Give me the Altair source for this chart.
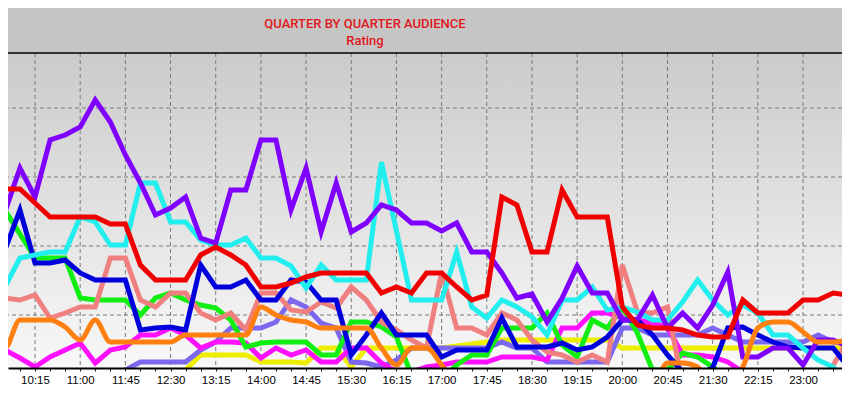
import altair as alt
import pandas as pd

# ---------------- data ----------------
quarters = ["9:30", "9:45", "10:00", "10:15", "10:30", "10:45", "11:00", "11:15", "11:30", "11:45",
            "12:00", "12:15", "12:30", "12:45", "13:00", "13:15", "13:30", "13:45", "14:00", "14:15",
            "14:30", "14:45", "15:00", "15:15", "15:30", "15:45", "16:00", "16:15", "16:30", "16:45",
            "17:00", "17:15", "17:30", "17:45", "18:00", "18:15", "18:30", "18:45", "19:00", "19:15",
            "19:30", "19:45", "20:00", "20:15", "20:30", "20:45", "21:00", "21:15", "21:30", "21:45",
            "22:00", "22:15", "22:30", "22:45", "23:00", "23:15", "23:30", "23:45"]

tick_labels = ["9:30", "10:15", "11:00", "11:45", "12:30", "13:15", "14:00", "14:45", "15:30", "16:15",
               "17:00", "17:45", "18:30", "19:15", "20:00", "20:45", "21:30", "22:15", "23:00", "23:45"]

grid_levels = [8.5, 15.4, 22.3, 29.2]

red = [21.1, 21.1, 21.1, 19.7, 18.3, 18.3, 18.3, 18.3, 17.6, 17.6,
       13.5, 12.0, 12.0, 12.0, 14.5, 15.3, 14.5, 13.5, 11.3, 11.3,
       11.7, 12.3, 12.7, 12.7, 12.7, 12.7, 10.7, 11.3, 10.7, 12.7,
       12.7, 11.3, 10.0, 10.5, 20.3, 19.5, 14.8, 14.8, 21.0, 18.3,
       18.3, 18.3, 9.3, 7.5, 7.2, 7.2, 7.0, 6.5, 6.3, 6.3,
       10.0, 8.7, 8.7, 8.7, 10.0, 10.0, 10.7, 10.5]

purple = [24.0, 18.8, 23.2, 20.3, 26.0, 26.5, 27.3, 30.0, 27.8, 24.5,
          21.7, 18.5, 19.2, 20.3, 16.2, 15.7, 21.0, 21.0, 26.0, 26.0,
          19.0, 23.2, 16.8, 21.7, 16.8, 17.7, 19.5, 19.0, 17.7, 17.7,
          16.9, 17.7, 14.8, 14.8, 12.7, 10.2, 10.6, 7.8, 10.2, 13.4,
          10.7, 10.7, 8.0, 8.0, 10.5, 7.2, 8.7, 7.2, 9.5, 12.8,
          4.3, 4.3, 5.2, 5.2, 3.5, 6.0, 6.0, 5.3]

cyan = [11.3, 11.3, 14.2, 14.5, 14.8, 14.8, 18.3, 17.8, 15.5, 15.5,
        21.7, 21.7, 17.8, 17.8, 16.0, 15.5, 15.5, 16.2, 14.2, 14.2,
        13.4, 11.2, 13.5, 12.0, 12.0, 12.0, 23.8, 16.9, 10.0, 10.0,
        10.0, 14.8, 9.3, 8.2, 10.0, 9.3, 8.3, 6.5, 10.0, 10.0,
        11.3, 9.0, 9.3, 8.8, 8.0, 8.0, 9.8, 12.0, 10.0, 8.5,
        9.5, 8.7, 6.5, 6.5, 5.2, 4.0, 3.3, 1.5]

blue = [13.8, 15.0, 19.0, 13.7, 13.7, 14.0, 12.7, 12.0, 12.0, 12.0,
        7.0, 7.2, 7.3, 7.0, 13.5, 11.3, 11.3, 12.0, 10.0, 10.0,
        12.0, 11.8, 10.0, 10.0, 4.5, 6.5, 8.7, 6.5, 6.5, 6.5,
        4.3, 5.0, 5.0, 5.0, 8.2, 5.3, 5.3, 5.3, 5.7, 5.0,
        5.3, 6.3, 8.0, 8.0, 6.5, 4.5, 2.8, 2.5, 3.2, 7.2,
        7.3, 6.5, 5.8, 5.3, 5.2, 5.2, 5.2, 3.3]

green = [21.0, 19.0, 16.6, 14.2, 14.2, 14.2, 10.2, 10.0, 10.0, 10.0,
         8.5, 10.2, 10.7, 10.0, 9.5, 9.2, 8.0, 5.3, 5.7, 5.8,
         5.8, 5.8, 4.5, 4.5, 7.8, 7.8, 7.3, 6.3, 2.5, 2.0,
         2.0, 3.5, 4.5, 4.5, 7.2, 7.2, 7.2, 8.7, 5.5, 4.3,
         8.0, 7.2, 9.3, 6.7, 3.0, 3.0, 4.7, 4.3, 3.3, 2.0,
         2.0, 2.0, 2.0, 2.0, 2.0, 2.0, 2.0, 2.0]

salmon = [10.2, 10.2, 10.0, 10.5, 8.2, 8.7, 9.3, 9.3, 14.2, 14.2,
          10.0, 9.3, 10.7, 10.7, 8.7, 8.0, 8.7, 7.0, 10.7, 10.7,
          9.0, 8.8, 9.8, 9.2, 11.3, 10.0, 7.8, 7.0, 6.0, 5.2,
          12.8, 7.2, 7.2, 6.5, 8.7, 8.0, 6.0, 4.8, 4.5, 3.8,
          4.5, 3.8, 13.5, 8.8, 8.7, 9.3, 1.5, 1.5, 1.5, 1.5,
          1.5, 1.5, 1.5, 1.5, 1.5, 1.5, 3.5, 6.0]

orange = [5.2, 5.2, 8.0, 8.0, 8.0, 7.3, 6.0, 8.0, 5.8, 5.8,
          5.8, 5.8, 5.8, 6.5, 6.5, 6.5, 6.5, 6.5, 9.3, 8.5,
          8.0, 7.8, 7.2, 7.2, 7.2, 7.2, 5.2, 3.5, 5.2, 5.2,
          3.5, 1.5, 1.5, 1.5, 1.5, 1.5, 1.5, 1.5, 1.5, 1.5,
          1.5, 1.5, 1.5, 1.5, 1.5, 3.7, 3.7, 3.3, 1.5, 1.5,
          3.3, 7.2, 7.8, 7.8, 6.8, 5.8, 5.8, 6.0]

magenta = [5.5, 5.0, 4.2, 3.3, 4.3, 5.0, 5.7, 3.7, 5.0, 5.3,
           6.5, 6.5, 7.2, 6.5, 5.2, 5.8, 5.8, 5.7, 4.2, 5.2,
           4.5, 5.0, 3.8, 3.8, 5.2, 5.2, 3.7, 2.8, 2.8, 3.3,
           3.5, 3.8, 3.8, 3.8, 4.3, 4.3, 4.3, 4.0, 7.2, 7.2,
           8.7, 8.7, 8.2, 8.0, 7.7, 7.3, 4.5, 4.5, 4.3, 3.8,
           2.8, 1.5, 1.5, 1.5, 1.5, 1.5, 1.5, 1.5]

slate = [1.5, 1.5, 1.5, 1.5, 1.5, 1.5, 1.5, 1.5, 1.5, 3.0,
         3.8, 3.8, 3.8, 3.8, 5.0, 5.8, 7.2, 7.2, 7.2, 7.8,
         10.0, 9.3, 7.7, 7.2, 3.8, 3.7, 3.3, 4.0, 5.2, 5.2,
         5.2, 5.2, 5.2, 5.2, 5.8, 5.2, 5.2, 3.8, 3.8, 3.8,
         3.8, 3.8, 7.2, 7.2, 6.5, 6.5, 6.5, 6.5, 7.2, 6.5,
         5.8, 5.8, 5.8, 5.8, 5.8, 6.5, 5.8, 5.7]

yellow = [1.5, 1.5, 1.5, 1.5, 1.5, 1.5, 1.5, 1.5, 1.5, 1.5,
          1.5, 1.5, 1.5, 3.0, 4.5, 4.5, 4.5, 4.5, 3.8, 3.8,
          3.8, 3.7, 5.2, 5.2, 3.3, 5.2, 5.2, 5.2, 5.2, 5.2,
          5.2, 5.4, 5.6, 5.8, 6.0, 6.0, 6.0, 6.0, 6.0, 6.0,
          6.0, 6.0, 5.2, 5.2, 5.2, 5.2, 5.2, 5.2, 5.2, 5.2,
          5.2, 5.2, 5.2, 5.2, 5.2, 5.2, 5.2, 5.2]

# drawing order: first = bottom
series = [
    ("Yellow", yellow, "#eeee00", "linear"),
    ("Slate", slate, "#7b68ee", "linear"),
    ("Magenta", magenta, "#ff10ff", "linear"),
    ("Green", green, "#11ee11", "linear"),
    ("Salmon", salmon, "#f08080", "linear"),
    ("Blue", blue, "#0000dd", "linear"),
    ("Cyan", cyan, "#22eeee", "linear"),
    ("Purple", purple, "#8000ff", "linear"),
    ("Red", red, "#f00000", "linear"),
    ("Orange", orange, "#ff8010", "monotone"),
]


def to_min(s):
    h, m = s.split(":")
    return int(h) * 60 + int(m)


rows = []
for name, vals, _, _ in series:
    for q, v in zip(quarters, vals):
        rows.append({"series": name, "t": to_min(q), "value": v})
df = pd.DataFrame(rows)

names = [s[0] for s in series]
colors = [s[2] for s in series]

W, H = 834, 315
X_DOMAIN = [588.1, 1418.8]
Y_DOMAIN = [3.2, 34.7]

quarter_ticks = [to_min(q) for q in quarters if X_DOMAIN[0] <= to_min(q) <= X_DOMAIN[1]]
first = to_min(tick_labels[0])
label_expr = (
    f"((datum.value - {first}) % 45 == 0) ? "
    "(floor(datum.value / 60) + ':' + (datum.value % 60 < 10 ? '0' : '') + (datum.value % 60)) : ''"
)

x_enc = alt.X(
    "t:Q",
    scale=alt.Scale(domain=X_DOMAIN, nice=False, zero=False),
    axis=alt.Axis(
        values=quarter_ticks,
        labelExpr=label_expr,
        title=None,
        grid=False,
        domainColor="black",
        domainWidth=2,
        tickColor="#222222",
        tickSize=3,
        tickWidth=1,
        labelFont="Liberation Sans",
        labelFontSize=11.5,
        labelColor="black",
        labelPadding=3,
        labelOverlap=False,
        labelFlush=False,
        zindex=1,
    ),
)
y_enc = alt.Y("value:Q", scale=alt.Scale(domain=Y_DOMAIN, nice=False, zero=False), axis=None)

one = pd.DataFrame({"text": ["QUARTER BY QUARTER AUDIENCE"]})
sub = pd.DataFrame({"text": ["Rating"]})
vgrid_df = pd.DataFrame({"t": [to_min(t) for t in tick_labels]})
hgrid_df = pd.DataFrame({"value": grid_levels})

header = alt.Chart(one).mark_rect(fill="#c5c5c5").encode(
    x=alt.value(0), x2=alt.value(W), y=alt.value(-45), y2=alt.value(0)
)

plot_bg = alt.Chart(one).mark_rect(
    fill=alt.Gradient(
        gradient="linear",
        stops=[alt.GradientStop(color="#cbcbcb", offset=0), alt.GradientStop(color="#f8f8f8", offset=1)],
        x1=0, x2=0, y1=0, y2=1,
    )
).encode(x=alt.value(0), x2=alt.value(W), y=alt.value(0), y2=alt.value(H))

vgrid = alt.Chart(vgrid_df).mark_rule(color="#7a7a7a", strokeWidth=1, strokeDash=[4, 3], clip=True).encode(x=x_enc)
hgrid = alt.Chart(hgrid_df).mark_rule(color="#7a7a7a", strokeWidth=1, strokeDash=[4, 3], clip=True).encode(y=y_enc)

color_scale = alt.Scale(domain=names, range=colors)
line_layers = []
for name, _, _, interp in series:
    line_layers.append(
        alt.Chart(df)
        .transform_filter(alt.datum.series == name)
        .mark_line(strokeWidth=5, clip=True, interpolate=interp, strokeJoin="miter")
        .encode(x=x_enc, y=y_enc, color=alt.Color("series:N", scale=color_scale, legend=None))
    )

top_border = alt.Chart(one).mark_rule(color="black", strokeWidth=1.5).encode(
    x=alt.value(0), x2=alt.value(W), y=alt.value(0)
)

title1 = alt.Chart(one).mark_text(
    font="Roboto", fontSize=13, fontWeight=500, color="#e0181e", baseline="middle", align="center"
).encode(x=alt.value(357), y=alt.value(-29), text="text:N")
title2 = alt.Chart(sub).mark_text(
    font="Roboto", fontSize=13, fontWeight=500, color="#e0181e", baseline="middle", align="center"
).encode(x=alt.value(357), y=alt.value(-12), text="text:N")

chart = alt.layer(
    header, plot_bg, vgrid, hgrid, *line_layers, top_border, title1, title2
).properties(
    width=W,
    height=H,
    autosize=alt.AutoSizeParams(type="none"),
    padding={"left": 0, "right": 0, "top": 45, "bottom": 33},
    background="white",
).configure_view(stroke=None)

chart.save("out.html", embed_options={"renderer": "svg", "actions": False})
